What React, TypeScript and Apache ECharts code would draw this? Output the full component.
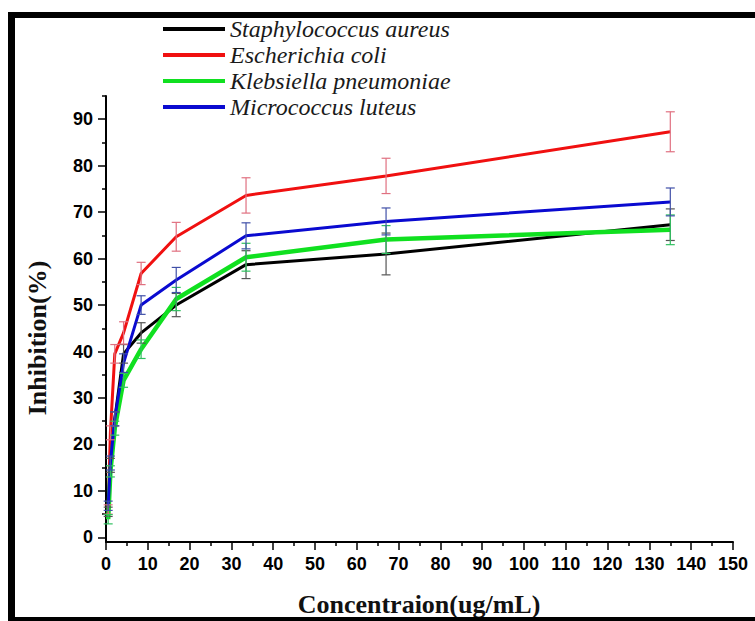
import React, { useEffect, useRef } from "react";
import * as echarts from "echarts";

const concentrations = [0.52, 1.05, 2.1, 4.2, 8.4, 16.8, 33.5, 67, 135];

const seriesNames = [
  "Staphylococcus aureus",
  "Escherichia coli",
  "Klebsiella pneumoniae",
  "Micrococcus luteus",
];

const staphValues = [5.5, 15.5, 25.5, 39.5, 44.0, 50.0, 58.7, 61.0, 67.3];
const ecoliValues = [6.0, 22.5, 39.5, 44.0, 56.8, 64.7, 73.6, 77.8, 87.3];
const klebValues = [3.9, 14.2, 23.5, 33.8, 40.5, 51.3, 60.3, 64.1, 66.2];
const microValues = [6.8, 16.0, 25.5, 37.5, 50.0, 55.4, 64.9, 68.0, 72.2];

const staphErrors = [1.0, 1.5, 1.5, 2.0, 2.2, 2.5, 3.0, 4.5, 3.4];
const ecoliErrors = [1.0, 1.5, 2.0, 2.4, 2.4, 3.1, 3.8, 3.8, 4.3];
const klebErrors = [1.0, 1.2, 1.5, 1.5, 2.0, 2.5, 3.0, 3.0, 3.2];
const microErrors = [1.0, 1.5, 1.5, 2.0, 2.0, 2.7, 2.8, 2.9, 3.0];

const yMajorTicks = [0, 10, 20, 30, 40, 50, 60, 70, 80, 90];
const yMinorTicks = [5, 15, 25, 35, 45, 55, 65, 75, 85, 95];

const lineColors = ["#000000", "#f01010", "#10e020", "#0a0ad0"];
const errColors = ["#555555", "#e07080", "#30c060", "#4050a8"];
const lineWidths = [3, 3, 4.5, 3];

const allValues = [staphValues, ecoliValues, klebValues, microValues];
const allErrors = [staphErrors, ecoliErrors, klebErrors, microErrors];

export default function App() {
  const ref = useRef<HTMLDivElement>(null);

  useEffect(() => {
    if (!ref.current) return;
    const chart = echarts.init(ref.current, undefined, { renderer: "svg" });

    const lineSeries = seriesNames.map((name, i) => ({
      name,
      type: "line",
      data: concentrations.map((x, j) => [x, allValues[i][j]]),
      showSymbol: false,
      symbol: "none",
      lineStyle: { color: lineColors[i], width: lineWidths[i] },
      itemStyle: { color: lineColors[i] },
      z: 3 + i,
    }));

    const errSeries = seriesNames.map((name, i) => ({
      name: name + " error",
      type: "custom",
      data: concentrations.map((x, j) => [x, allValues[i][j], allErrors[i][j]]),
      encode: { x: 0, y: 1 },
      z: 8,
      renderItem: (params: any, api: any) => {
        const x = api.value(0);
        const y = api.value(1);
        const e = api.value(2);
        const top = api.coord([x, y + e]);
        const bot = api.coord([x, y - e]);
        const hw = 4.5;
        const style = { stroke: errColors[i], lineWidth: 1.2 };
        return {
          type: "group",
          children: [
            { type: "line", shape: { x1: top[0], y1: top[1], x2: bot[0], y2: bot[1] }, style },
            { type: "line", shape: { x1: top[0] - hw, y1: top[1], x2: top[0] + hw, y2: top[1] }, style },
            { type: "line", shape: { x1: bot[0] - hw, y1: bot[1], x2: bot[0] + hw, y2: bot[1] }, style },
          ],
        };
      },
    }));

    const option: any = {
      animation: false,
      backgroundColor: "#ffffff",
      grid: { left: 106, right: 22, top: 96, bottom: 79, containLabel: false },
      legend: {
        data: seriesNames,
        orient: "vertical",
        left: 163,
        top: 17,
        padding: 0,
        itemWidth: 62,
        itemHeight: 4,
        itemGap: 2,
        icon: "rect",
        textStyle: {
          fontFamily: "Liberation Serif",
          fontStyle: "italic",
          fontSize: 24,
          lineHeight: 24,
          color: "#1a1a1a",
        },
      },
      xAxis: {
        type: "value",
        min: 0,
        max: 150,
        interval: 10,
        axisLine: { show: true, onZero: false, lineStyle: { color: "#000", width: 2 } },
        axisTick: { show: true, inside: false, length: 8, lineStyle: { color: "#000", width: 1.5 } },
        minorTick: { show: true, splitNumber: 2, length: 4, lineStyle: { color: "#000", width: 1.5 } },
        axisLabel: {
          margin: 13,
          color: "#000",
          fontFamily: "Liberation Sans",
          fontWeight: "bold",
          fontSize: 18,
        },
        splitLine: { show: false },
      },
      yAxis: [
        {
          type: "value",
          min: -1,
          max: 95,
          axisLine: { show: true, onZero: false, lineStyle: { color: "#000", width: 2 } },
          axisTick: {
            show: true,
            inside: false,
            length: 8,
            customValues: yMajorTicks,
            lineStyle: { color: "#000", width: 1.5 },
          },
          axisLabel: {
            customValues: yMajorTicks,
            margin: 13,
            color: "#000",
            fontFamily: "Liberation Sans",
            fontWeight: "bold",
            fontSize: 18,
          },
          splitLine: { show: false },
        },
        {
          type: "value",
          min: -1,
          max: 95,
          position: "left",
          axisLine: { show: false },
          axisTick: {
            show: true,
            inside: false,
            length: 4,
            customValues: yMinorTicks,
            lineStyle: { color: "#000", width: 1.5 },
          },
          axisLabel: { show: false },
          splitLine: { show: false },
        },
      ],
      graphic: [
        { type: "rect", shape: { x: 8, y: 12, width: 7, height: 609 }, style: { fill: "#000" }, z: 100 },
        { type: "rect", shape: { x: 8, y: 12, width: 747, height: 6 }, style: { fill: "#000" }, z: 100 },
        { type: "rect", shape: { x: 8, y: 617, width: 747, height: 4 }, style: { fill: "#000" }, z: 100 },
        {
          type: "text",
          x: 419,
          y: 604,
          style: {
            text: "Concentraion(ug/mL)",
            fontFamily: "Liberation Serif",
            fontWeight: "bold",
            fontSize: 26,
            fill: "#111",
            textAlign: "center",
            textVerticalAlign: "middle",
          },
        },
        {
          type: "text",
          x: 37,
          y: 338,
          rotation: Math.PI / 2,
          style: {
            text: "Inhibition(%)",
            fontFamily: "Liberation Serif",
            fontWeight: "bold",
            fontSize: 26,
            fill: "#111",
            textAlign: "center",
            textVerticalAlign: "middle",
          },
        },
      ],
      series: [...errSeries, ...lineSeries],
    };

    chart.setOption(option);
    return () => chart.dispose();
  }, []);

  return (
    <div
      ref={ref}
      style={{ position: "absolute", left: 0, top: 0, width: 755, height: 621 }}
    />
  );
}
